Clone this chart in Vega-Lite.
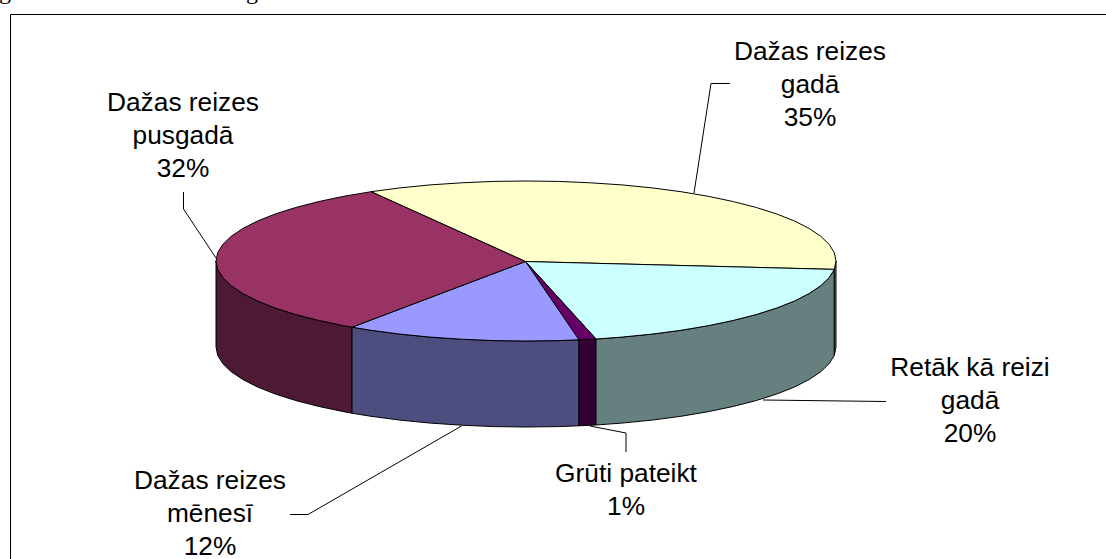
{"$schema":"https://vega.github.io/schema/vega-lite/v6.json","width":1106,"height":559,"padding":0,"autosize":{"type":"none"},"background":"white","view":{"stroke":null},
"datasets":{
"faces":[
{"f":"side maroon","o":1,"x":216,"y":261},{"f":"side maroon","o":2,"x":217.7,"y":269.4},{"f":"side maroon","o":3,"x":222.8,"y":277.6},{"f":"side maroon","o":4,"x":231.2,"y":285.7},{"f":"side maroon","o":5,"x":242.8,"y":293.5},{"f":"side maroon","o":6,"x":257.5,"y":301},{"f":"side maroon","o":7,"x":275.2,"y":308},{"f":"side maroon","o":8,"x":295.6,"y":314.5},{"f":"side maroon","o":9,"x":318.6,"y":320.4},{"f":"side maroon","o":10,"x":343.8,"y":325.7},{"f":"side maroon","o":11,"x":352,"y":327.2},{"f":"side maroon","o":12,"x":352,"y":413.2},{"f":"side maroon","o":13,"x":343.8,"y":411.7},{"f":"side maroon","o":14,"x":318.6,"y":406.4},{"f":"side maroon","o":15,"x":295.6,"y":400.5},{"f":"side maroon","o":16,"x":275.2,"y":394},{"f":"side maroon","o":17,"x":257.5,"y":387},{"f":"side maroon","o":18,"x":242.8,"y":379.5},{"f":"side maroon","o":19,"x":231.2,"y":371.7},{"f":"side maroon","o":20,"x":222.8,"y":363.6},{"f":"side maroon","o":21,"x":217.7,"y":355.4},{"f":"side maroon","o":22,"x":216,"y":347},{"f":"side maroon","o":23,"x":216,"y":261},
{"f":"side lilac","o":1,"x":352,"y":327.2},{"f":"side lilac","o":2,"x":371,"y":330.3},{"f":"side lilac","o":3,"x":399.9,"y":334.1},{"f":"side lilac","o":4,"x":430.2,"y":337.1},{"f":"side lilac","o":5,"x":461.6,"y":339.2},{"f":"side lilac","o":6,"x":493.6,"y":340.6},{"f":"side lilac","o":7,"x":526,"y":341},{"f":"side lilac","o":8,"x":558.4,"y":340.6},{"f":"side lilac","o":9,"x":579,"y":339.8},{"f":"side lilac","o":10,"x":579,"y":425.8},{"f":"side lilac","o":11,"x":558.4,"y":426.6},{"f":"side lilac","o":12,"x":526,"y":427},{"f":"side lilac","o":13,"x":493.6,"y":426.6},{"f":"side lilac","o":14,"x":461.6,"y":425.2},{"f":"side lilac","o":15,"x":430.2,"y":423.1},{"f":"side lilac","o":16,"x":399.9,"y":420.1},{"f":"side lilac","o":17,"x":371,"y":416.3},{"f":"side lilac","o":18,"x":352,"y":413.2},{"f":"side lilac","o":19,"x":352,"y":327.2},
{"f":"side purple","o":1,"x":579,"y":339.8},{"f":"side purple","o":2,"x":596,"y":339},{"f":"side purple","o":3,"x":596,"y":425},{"f":"side purple","o":4,"x":579,"y":425.8},{"f":"side purple","o":5,"x":579,"y":339.8},
{"f":"side cyan","o":1,"x":596,"y":339},{"f":"side cyan","o":2,"x":621.8,"y":337.1},{"f":"side cyan","o":3,"x":652.1,"y":334.1},{"f":"side cyan","o":4,"x":681,"y":330.3},{"f":"side cyan","o":5,"x":708.2,"y":325.7},{"f":"side cyan","o":6,"x":733.4,"y":320.4},{"f":"side cyan","o":7,"x":756.4,"y":314.5},{"f":"side cyan","o":8,"x":776.8,"y":308},{"f":"side cyan","o":9,"x":794.5,"y":301},{"f":"side cyan","o":10,"x":809.2,"y":293.5},{"f":"side cyan","o":11,"x":820.8,"y":285.7},{"f":"side cyan","o":12,"x":829.2,"y":277.6},{"f":"side cyan","o":13,"x":834.3,"y":269.4},{"f":"side cyan","o":14,"x":834.3,"y":355.4},{"f":"side cyan","o":15,"x":829.2,"y":363.6},{"f":"side cyan","o":16,"x":820.8,"y":371.7},{"f":"side cyan","o":17,"x":809.2,"y":379.5},{"f":"side cyan","o":18,"x":794.5,"y":387},{"f":"side cyan","o":19,"x":776.8,"y":394},{"f":"side cyan","o":20,"x":756.4,"y":400.5},{"f":"side cyan","o":21,"x":733.4,"y":406.4},{"f":"side cyan","o":22,"x":708.2,"y":411.7},{"f":"side cyan","o":23,"x":681,"y":416.3},{"f":"side cyan","o":24,"x":652.1,"y":420.1},{"f":"side cyan","o":25,"x":621.8,"y":423.1},{"f":"side cyan","o":26,"x":596,"y":425},{"f":"side cyan","o":27,"x":596,"y":339},
{"f":"side yellow","o":1,"x":834.3,"y":269.4},{"f":"side yellow","o":2,"x":836,"y":261},{"f":"side yellow","o":3,"x":836,"y":347},{"f":"side yellow","o":4,"x":834.3,"y":355.4},{"f":"side yellow","o":5,"x":834.3,"y":269.4},
{"f":"top yellow","o":1,"x":525.5,"y":261.5},{"f":"top yellow","o":2,"x":371,"y":191.7},{"f":"top yellow","o":3,"x":399.9,"y":187.9},{"f":"top yellow","o":4,"x":430.2,"y":184.9},{"f":"top yellow","o":5,"x":461.6,"y":182.8},{"f":"top yellow","o":6,"x":493.6,"y":181.4},{"f":"top yellow","o":7,"x":526,"y":181},{"f":"top yellow","o":8,"x":558.4,"y":181.4},{"f":"top yellow","o":9,"x":590.4,"y":182.8},{"f":"top yellow","o":10,"x":621.8,"y":184.9},{"f":"top yellow","o":11,"x":652.1,"y":187.9},{"f":"top yellow","o":12,"x":681,"y":191.7},{"f":"top yellow","o":13,"x":708.2,"y":196.3},{"f":"top yellow","o":14,"x":733.4,"y":201.6},{"f":"top yellow","o":15,"x":756.4,"y":207.5},{"f":"top yellow","o":16,"x":776.8,"y":214},{"f":"top yellow","o":17,"x":794.5,"y":221},{"f":"top yellow","o":18,"x":809.2,"y":228.5},{"f":"top yellow","o":19,"x":820.8,"y":236.3},{"f":"top yellow","o":20,"x":829.2,"y":244.4},{"f":"top yellow","o":21,"x":834.3,"y":252.6},{"f":"top yellow","o":22,"x":836,"y":261},{"f":"top yellow","o":23,"x":834.3,"y":269.4},{"f":"top yellow","o":24,"x":525.5,"y":261.5},
{"f":"top cyan","o":1,"x":525.5,"y":261.5},{"f":"top cyan","o":2,"x":834.3,"y":269.4},{"f":"top cyan","o":3,"x":829.2,"y":277.6},{"f":"top cyan","o":4,"x":820.8,"y":285.7},{"f":"top cyan","o":5,"x":809.2,"y":293.5},{"f":"top cyan","o":6,"x":794.5,"y":301},{"f":"top cyan","o":7,"x":776.8,"y":308},{"f":"top cyan","o":8,"x":756.4,"y":314.5},{"f":"top cyan","o":9,"x":733.4,"y":320.4},{"f":"top cyan","o":10,"x":708.2,"y":325.7},{"f":"top cyan","o":11,"x":681,"y":330.3},{"f":"top cyan","o":12,"x":652.1,"y":334.1},{"f":"top cyan","o":13,"x":621.8,"y":337.1},{"f":"top cyan","o":14,"x":596,"y":339},{"f":"top cyan","o":15,"x":525.5,"y":261.5},
{"f":"top purple","o":1,"x":525.5,"y":261.5},{"f":"top purple","o":2,"x":596,"y":339},{"f":"top purple","o":3,"x":579,"y":339.8},{"f":"top purple","o":4,"x":525.5,"y":261.5},
{"f":"top lilac","o":1,"x":525.5,"y":261.5},{"f":"top lilac","o":2,"x":579,"y":339.8},{"f":"top lilac","o":3,"x":558.4,"y":340.6},{"f":"top lilac","o":4,"x":526,"y":341},{"f":"top lilac","o":5,"x":493.6,"y":340.6},{"f":"top lilac","o":6,"x":461.6,"y":339.2},{"f":"top lilac","o":7,"x":430.2,"y":337.1},{"f":"top lilac","o":8,"x":399.9,"y":334.1},{"f":"top lilac","o":9,"x":371,"y":330.3},{"f":"top lilac","o":10,"x":352,"y":327.2},{"f":"top lilac","o":11,"x":525.5,"y":261.5},
{"f":"top maroon","o":1,"x":525.5,"y":261.5},{"f":"top maroon","o":2,"x":352,"y":327.2},{"f":"top maroon","o":3,"x":343.8,"y":325.7},{"f":"top maroon","o":4,"x":318.6,"y":320.4},{"f":"top maroon","o":5,"x":295.6,"y":314.5},{"f":"top maroon","o":6,"x":275.2,"y":308},{"f":"top maroon","o":7,"x":257.5,"y":301},{"f":"top maroon","o":8,"x":242.8,"y":293.5},{"f":"top maroon","o":9,"x":231.2,"y":285.7},{"f":"top maroon","o":10,"x":222.8,"y":277.6},{"f":"top maroon","o":11,"x":217.7,"y":269.4},{"f":"top maroon","o":12,"x":216,"y":261},{"f":"top maroon","o":13,"x":217.7,"y":252.6},{"f":"top maroon","o":14,"x":222.8,"y":244.4},{"f":"top maroon","o":15,"x":231.2,"y":236.3},{"f":"top maroon","o":16,"x":242.8,"y":228.5},{"f":"top maroon","o":17,"x":257.5,"y":221},{"f":"top maroon","o":18,"x":275.2,"y":214},{"f":"top maroon","o":19,"x":295.6,"y":207.5},{"f":"top maroon","o":20,"x":318.6,"y":201.6},{"f":"top maroon","o":21,"x":343.8,"y":196.3},{"f":"top maroon","o":22,"x":371,"y":191.7},{"f":"top maroon","o":23,"x":525.5,"y":261.5}
],
"leaders":[
{"l":"gada","o":1,"x":694,"y":193},{"l":"gada","o":2,"x":711,"y":83.5},{"l":"gada","o":3,"x":730,"y":83.5},
{"l":"pusgada","o":1,"x":216,"y":258},{"l":"pusgada","o":2,"x":183.5,"y":209},{"l":"pusgada","o":3,"x":183.5,"y":192},
{"l":"retak","o":1,"x":763,"y":400},{"l":"retak","o":2,"x":886,"y":401.5},
{"l":"gruti","o":1,"x":590,"y":426},{"l":"gruti","o":2,"x":626,"y":433},{"l":"gruti","o":3,"x":626,"y":452},
{"l":"menesi","o":1,"x":461.5,"y":426},{"l":"menesi","o":2,"x":308,"y":514.5},{"l":"menesi","o":3,"x":290,"y":514.5},
{"l":"frame","o":1,"x":10.5,"y":559},{"l":"frame","o":2,"x":10.5,"y":14.5},{"l":"frame","o":3,"x":1106,"y":14.5}
],
"labels":[
{"t":"Dažas reizes\ngadā\n35%","x":810,"y":52},
{"t":"Dažas reizes\npusgadā\n32%","x":183,"y":103},
{"t":"Retāk kā reizi\ngadā\n20%","x":970,"y":368},
{"t":"Grūti pateikt\n1%","x":626,"y":474},
{"t":"Dažas reizes\nmēnesī\n12%","x":210,"y":481}
],
"cropped":[{"t":"g","x":5,"y":-1.5},{"t":"g","x":252,"y":-1.5}]
},
"layer":[
{"data":{"name":"faces"},"mark":{"type":"line","stroke":"black","strokeWidth":1,"strokeJoin":"round","clip":false},
"encoding":{"x":{"field":"x","type":"quantitative","scale":{"domain":[0,1106],"nice":false,"zero":false},"axis":null},"y":{"field":"y","type":"quantitative","scale":{"domain":[559,0],"nice":false,"zero":false},"axis":null},"order":{"field":"o","type":"quantitative"},
"fill":{"field":"f","type":"nominal","legend":null,"scale":{"domain":["side maroon","side lilac","side purple","side cyan","side yellow","top yellow","top cyan","top purple","top lilac","top maroon"],"range":["#4D1933","#4D4D80","#330033","#668080","#80805F","#FFFFCC","#CCFFFF","#660066","#9999FF","#993366"]}}}},
{"data":{"name":"leaders"},"mark":{"type":"line","stroke":"black","strokeWidth":1},
"encoding":{"x":{"field":"x","type":"quantitative"},"y":{"field":"y","type":"quantitative"},"order":{"field":"o","type":"quantitative"},"detail":{"field":"l"}}},
{"data":{"name":"labels"},"mark":{"type":"text","font":"Liberation Sans","fontSize":26.3,"lineHeight":33,"lineBreak":"\n","align":"center","baseline":"middle","color":"black"},
"encoding":{"x":{"field":"x","type":"quantitative"},"y":{"field":"y","type":"quantitative"},"text":{"field":"t"}}},
{"data":{"name":"cropped"},"mark":{"type":"text","font":"Liberation Serif","fontSize":24,"align":"center","baseline":"alphabetic","color":"black"},
"encoding":{"x":{"field":"x","type":"quantitative"},"y":{"field":"y","type":"quantitative"},"text":{"field":"t"}}}
]}
